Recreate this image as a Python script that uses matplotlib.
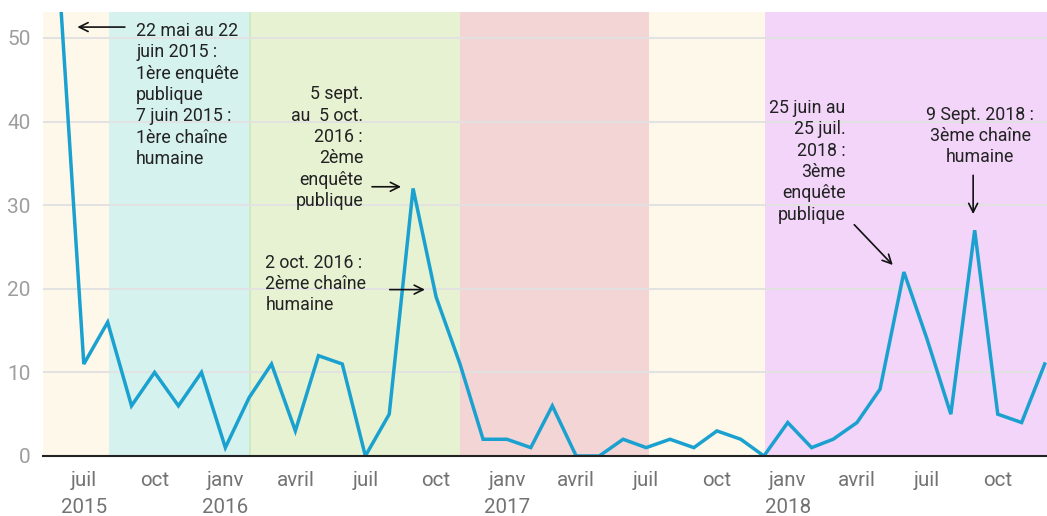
import matplotlib
matplotlib.use("Agg")
import matplotlib.pyplot as plt
import pandas as pd

plt.rcParams['font.family'] = ['Roboto', 'DejaVu Sans']

# ---- data ----
months = pd.date_range("2015-06-01", "2018-12-01", freq="MS")
values = [54, 11, 16, 6, 10, 6, 10,
          1, 7, 11, 3, 12, 11, 0, 5, 32, 19, 11, 2,
          2, 1, 6, 0, 0, 2, 1, 2, 1, 3, 2, 0,
          4, 1, 2, 4, 8, 22, 14, 5, 27, 5, 4, 11]

band_edges = ["2015-05-09", "2015-08-03", "2016-02-02", "2016-11-01",
              "2017-07-05", "2017-12-02", "2018-12-05"]
band_colors = ["#fdf8e9", "#d5f2ee", "#e7f2d3", "#f3d5d5", "#fdf8e9", "#f2d5f9"]

tick_dates = pd.date_range("2015-07-01", "2018-10-01", freq="3MS")
tick_labels = ["juil\n2015", "oct", "janv\n2016", "avril", "juil", "oct",
               "janv\n2017", "avril", "juil", "oct", "janv\n2018", "avril",
               "juil", "oct"]
y_ticks = [0, 10, 20, 30, 40, 50]

# ---- figure ----
fig = plt.figure(figsize=(10.47, 5.16), dpi=100)
ax = fig.add_axes([0.0411, 0.1163, 0.9589, 0.8604])

edges = pd.to_datetime(band_edges)
for i, c in enumerate(band_colors):
    ax.axvspan(edges[i], edges[i + 1], color=c, lw=0, zorder=0.2)
ax.axvline(edges[2], color="#cde8bf", lw=1.2, zorder=0.3)

ax.plot(months, values, color="#1ba1cf", lw=2.5, zorder=3, solid_joinstyle="miter")

ax.set_xlim(pd.Timestamp("2015-05-09"), pd.Timestamp("2018-12-04"))
ax.set_ylim(0, 53.1)

ax.set_axisbelow(True)
ax.yaxis.grid(True, color="#e2e2e2", lw=1.4)
ax.xaxis.grid(False)

ax.set_yticks(y_ticks)
ax.set_yticklabels([str(v) for v in y_ticks])
ax.set_xticks(tick_dates)
ax.set_xticklabels(tick_labels)
ax.tick_params(axis="y", length=0, pad=9, labelsize=15, labelcolor="#9e9e9e")
ax.tick_params(axis="x", length=0, pad=11, labelsize=14.8, labelcolor="#737373")
for lab in ax.get_xticklabels():
    lab.set_linespacing(1.5)

for s in ["top", "right", "left"]:
    ax.spines[s].set_visible(False)
ax.spines["bottom"].set_color("#222222")
ax.spines["bottom"].set_linewidth(1.5)
ax.spines["bottom"].set_zorder(4)

txt = dict(fontsize=12.8, color="#222222", linespacing=1.24, va="top", zorder=5)
arrow = dict(arrowstyle="->", color="#111111", lw=1.2, mutation_scale=16)

# annotation 1
ax.text(pd.Timestamp("2015-09-07"), 51.9,
        "22 mai au 22\njuin 2015 :\n1ère enquête\npublique\n7 juin 2015 :\n1ère chaîne\nhumaine",
        ha="left", **txt)
ax.annotate("", xy=(pd.Timestamp("2015-06-19"), 51.3),
            xytext=(pd.Timestamp("2015-08-27"), 51.3), arrowprops=arrow, zorder=5)

# annotation 2
ax.text(pd.Timestamp("2016-06-28"), 44.35,
        "5 sept.\nau  5 oct.\n2016 :\n2ème\nenquête\npublique",
        ha="right", multialignment="right", **txt)
ax.annotate("", xy=(pd.Timestamp("2016-08-20"), 32.2),
            xytext=(pd.Timestamp("2016-07-06"), 32.2), arrowprops=arrow, zorder=5)

# annotation 3
ax.text(pd.Timestamp("2016-02-22"), 24.2,
        "2 oct. 2016 :\n2ème chaîne\nhumaine",
        ha="left", **txt)
ax.annotate("", xy=(pd.Timestamp("2016-09-20"), 19.9),
            xytext=(pd.Timestamp("2016-07-29"), 19.9), arrowprops=arrow, zorder=5)

# annotation 4
ax.text(pd.Timestamp("2018-03-17"), 42.7,
        "25 juin au\n25 juil.\n2018 :\n3ème\nenquête\npublique",
        ha="right", multialignment="right", **txt)
ax.annotate("", xy=(pd.Timestamp("2018-05-20"), 22.6),
            xytext=(pd.Timestamp("2018-03-26"), 27.9), arrowprops=arrow, zorder=5)

# annotation 5
ax.text(pd.Timestamp("2018-09-08"), 41.9,
        "9 Sept. 2018 :\n3ème chaîne\nhumaine",
        ha="center", multialignment="center", **txt)
ax.annotate("", xy=(pd.Timestamp("2018-08-30"), 28.6),
            xytext=(pd.Timestamp("2018-08-30"), 33.9), arrowprops=arrow, zorder=5)

fig.savefig("out.png", dpi=100)
